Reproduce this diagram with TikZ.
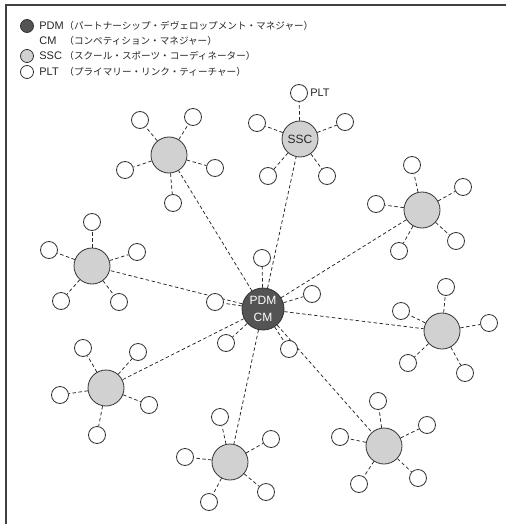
\documentclass[tikz,border=0pt]{standalone}
\usepackage{fontspec}
\setmainfont{Liberation Sans}
\newfontfamily\jpfont{Noto Sans CJK JP}
\usetikzlibrary{positioning,backgrounds}
\begin{document}
\begin{tikzpicture}
[x=1pt, y=-1pt,
 every node/.style={circle, draw=black!80, line width=0.8pt, inner sep=0pt},
 pdm/.style={fill=black!67, minimum size=42pt, text=white, align=center,
             font=\fontsize{12}{17}\selectfont},
 ssc/.style={fill=black!18, minimum size=36pt, text=black!85,
             font=\fontsize{12}{12}\selectfont},
 plt/.style={fill=white, minimum size=17pt},
 key/.style={minimum size=13pt},
 txt/.style={draw=none, rectangle, anchor=west, text=black!85,
             font=\fontsize{11}{12}\selectfont},
 link/.style={dash pattern=on 3.5pt off 2.5pt, line width=0.75pt, black!85}]
\useasboundingbox (0,0) rectangle (506,524);
\draw[black!75, line width=1.6pt] (506,5) -- (6,5) -- (6,524);

% legend
\node[key, fill=black!67] (k-pdm) at (27,26) {};
\node[key, fill=black!18] (k-ssc) at (27,56) {};
\node[key, fill=white]    (k-plt) at (27,72) {};
\foreach \y/\ab/\jp in {
  26/PDM/（パートナーシップ・デヴェロップメント・マネジャー）,
  41/CM/（コンペティション・マネジャー）,
  56/SSC/（スクール・スポーツ・コーディネーター）,
  72/PLT/（プライマリー・リンク・ティーチャー）}
{
  \node[txt] (ab-\ab) at (39,\y) {\ab};
  \node[txt, font=\fontsize{9.6}{12}\jpfont] (jp-\ab) at (64,\y) {\jp};
}

% centre
\node[pdm] (pdm) at (263,309) {PDM\\CM};
\foreach \p [count=\i] in {{262,258},{215,302},{312,294},{226,343},{289,349}}
{
  \node[plt] (pdm-\i) at (\p) {};
  \begin{pgfonlayer}{background}
    \draw[link] (pdm) -- (pdm-\i);
  \end{pgfonlayer}
}

% hubs with their schools
\foreach \h/\c/\txt/\ps in {
  t/{300,139}/SSC/{{299,93},{257,123},{345,122},{268,176},{327,176}},
  a/{169,155}//{{140,120},{193,117},{125,170},{215,168},{173,203}},
  b/{92,266}//{{92,222},{49,250},{137,252},{61,301},{119,302}},
  c/{422,210}//{{412,165},{463,187},{376,204},{399,251},{456,241}},
  d/{442,331}//{{446,287},{401,311},{489,323},{408,363},{465,373}},
  e/{106,388}//{{83,348},{138,352},{60,395},{149,405},{97,435}},
  f/{230,462}//{{220,417},{271,439},{185,457},{266,492},{209,502}},
  g/{384,446}//{{378,401},{427,425},{340,437},{359,484},{418,478}}}
{
  \node[ssc] (\h) at (\c) {\txt};
  \foreach \p [count=\i] in \ps
  {
    \node[plt] (\h-\i) at (\p) {};
    \begin{pgfonlayer}{background}
      \draw[link] (\h) -- (\h-\i);
    \end{pgfonlayer}
  }
  \begin{pgfonlayer}{background}
    \draw[link] (pdm) -- (\h);
  \end{pgfonlayer}
}
\node[txt, right=2pt of t-1] (t-lbl) {PLT};
\end{tikzpicture}
\end{document}
